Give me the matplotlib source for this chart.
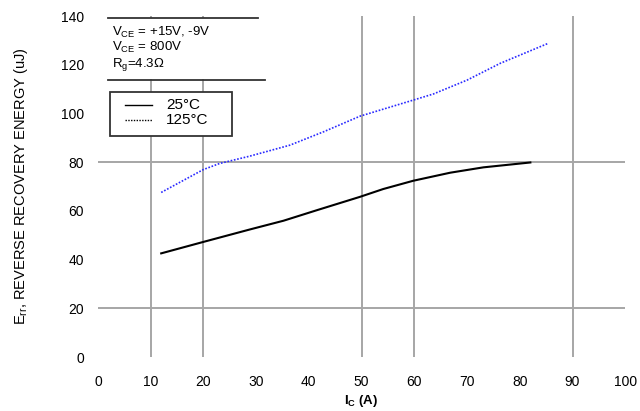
import matplotlib.pyplot as plt
from matplotlib.patches import Rectangle

plt.rcParams['font.family'] = ['Liberation Sans', 'DejaVu Sans']

# collector current (A) and reverse recovery energy (uJ)
ic_25 = [12, 20, 28.8, 35.2, 41.5, 49.7, 54.1, 59.8, 66.8, 73.1, 82]
err_25 = [42.6, 47.3, 52.4, 56.0, 60.3, 65.8, 69.0, 72.4, 75.7, 77.9, 79.9]
ic_125 = [12, 20, 23.1, 28.8, 36.4, 42.8, 49.7, 59.8, 63.6, 70.0, 76.3, 85.4]
err_125 = [67.6, 77.0, 79.5, 82.5, 87.0, 92.5, 98.9, 105.5, 108.0, 113.7, 120.6, 128.8]

x_ticks = list(range(0, 101, 10))
y_ticks = list(range(0, 141, 20))
x_grid = [10, 20, 50, 60, 90]
y_grid = [20, 80]

conditions = ["V$_{\\mathregular{CE}}$ = +15V, -9V",
              "V$_{\\mathregular{CE}}$ = 800V",
              "R$_{\\mathregular{g}}$=4.3\u03a9"]
legend_labels = ['25\u00b0C', '125\u00b0C']

fig = plt.figure(figsize=(6.4, 4.11), dpi=100)
ax = fig.add_axes([0.153, 0.131, 0.824, 0.830])

grid_col = '#a6a6a6'
for gx in x_grid:
    ax.axvline(gx, color=grid_col, lw=1.4, zorder=1)
for gy in y_grid:
    ax.axhline(gy, color=grid_col, lw=1.4, zorder=1)

ax.plot(ic_25, err_25, color='black', lw=1.5, zorder=3)
ax.plot(ic_125, err_125, color='#2a2aff', lw=1.2, ls=(0, (1, 1)), zorder=3)

ax.set_xlim(0, 100)
ax.set_ylim(0, 140)
ax.set_xticks(x_ticks)
ax.set_yticks(y_ticks)
ax.tick_params(length=0, labelsize=10, pad=10)
ax.tick_params(axis='x', pad=13)
for s in ax.spines.values():
    s.set_visible(False)

ax.set_xlabel("I$_{\\mathregular{C}}$ (A)", fontsize=9.5, fontweight='bold', labelpad=3)
ax.set_ylabel("E$_{\\mathregular{rr}}$, REVERSE RECOVERY ENERGY (uJ)", fontsize=10.5, labelpad=22)

# conditions box
ax.add_patch(Rectangle((2.0, 114.2), 30.5, 24.8, facecolor='white', edgecolor='none', zorder=4))
ax.plot([2.0, 30.4], [139, 139], color='#333333', lw=1.3, zorder=5)
ax.plot([2.0, 31.7], [113.9, 113.9], color='#333333', lw=1.3, zorder=5)
for i, t in enumerate(conditions):
    ax.text(2.6, 136.4 - i * 6.4, t, fontsize=9.5, va='top', ha='left', zorder=6)

# legend box (axes fraction)
tr = ax.transAxes
ax.add_patch(Rectangle((0.0228, 0.648), 0.2315, 0.129, transform=tr, facecolor='white',
                       edgecolor='#333333', lw=1.3, zorder=6))
ax.plot([0.051, 0.102], [0.740, 0.740], transform=tr, color='black', lw=1.0, zorder=7)
ax.plot([0.051, 0.102], [0.694, 0.694], transform=tr, color='black', lw=1.0,
        ls=(0, (1, 1)), zorder=7)
ax.text(0.129, 0.740, legend_labels[0], transform=tr, fontsize=11, va='center', zorder=7)
ax.text(0.129, 0.694, legend_labels[1], transform=tr, fontsize=11, va='center', zorder=7)

fig.savefig('out.png', dpi=100)
